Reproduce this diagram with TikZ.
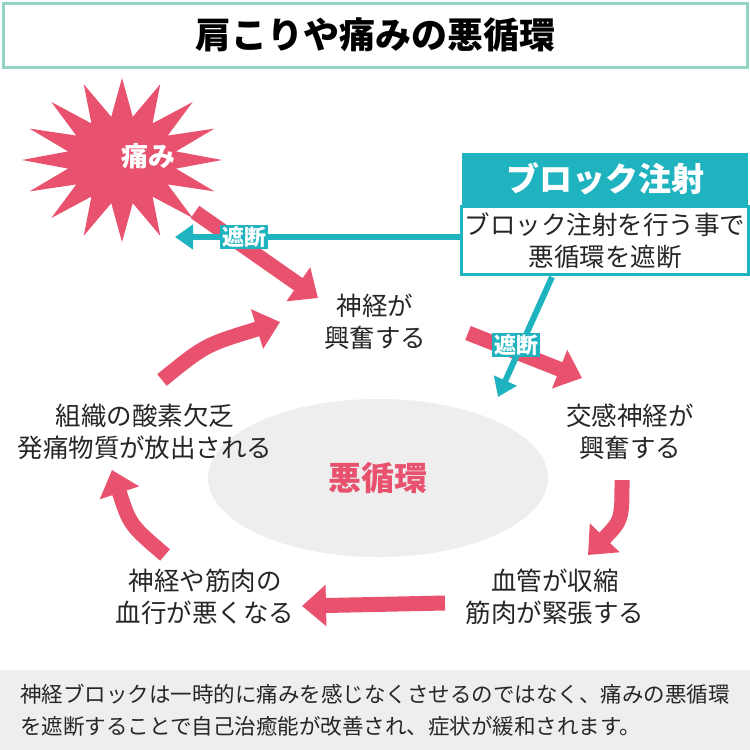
\documentclass[tikz,border=0pt]{standalone}
\usepackage{fontspec}
\setmainfont{Noto Sans CJK JP}
\usetikzlibrary{arrows.meta,shapes.geometric}
\definecolor{pk}{HTML}{E8526E}
\definecolor{tl}{HTML}{1FB3C0}
\definecolor{tb}{HTML}{92D5C5}
\definecolor{gr}{HTML}{EEEEEE}
\begin{document}
\begin{tikzpicture}[x=1pt,y=-1pt,
 txt/.style={align=center,font=\fontsize{25.5}{32}\selectfont,text=black!85},
 parr/.style={pk,line width=15,-{Triangle[length=24,width=40]}},
 tarr/.style={tl,line width=6,-{Triangle[length=18,width=24]}},
 cut/.style={fill=tl,text=white,font=\fontsize{22}{24}\selectfont\bfseries,inner sep=2}]
\useasboundingbox (0,0) rectangle (750,750);
\fill[white] (0,0) rectangle (750,750);
% title
\node[draw=tb,line width=3,minimum width=744,minimum height=64,font=\fontsize{36}{40}\selectfont\bfseries] (title) at (375,35) {肩こりや痛みの悪循環};
% ellipse
\node[ellipse,fill=gr,minimum width=340,minimum height=158,text=pk,font=\fontsize{33}{36}\selectfont\bfseries] (cyc) at (378,478) {悪循環};
% starburst
\fill[pk] plot[samples=33,domain=0:360,variable=\t] ({122+(77.5+22.5*cos(16*\t))*cos(\t)},{160+(63+19*cos(16*\t))*sin(\t)}) -- cycle;
\node[text=white,font=\fontsize{27}{30}\selectfont\bfseries] (pain) at (148,156) {痛み};
% text nodes
\node[txt] (n1) at (375,322) {神経が\\興奮する};
\node[txt] (n2) at (630,432) {交感神経が\\興奮する};
\node[txt] (n3) at (555,597) {血管が収縮\\筋肉が緊張する};
\node[txt] (n4) at (205,597) {神経や筋肉の\\血行が悪くなる};
\node[txt] (n5) at (145,432) {組織の酸素欠乏\\発痛物質が放出される};
% pink arrows
\coordinate (p1s) at (195,212); \coordinate (p1e) at (318,298);
\draw[parr] (p1s) -- (p1e);
\coordinate (p2s) at (468,333); \coordinate (p2e) at (582,378);
\draw[parr] (p2s) -- (p2e);
\coordinate (p3s) at (622,480); \coordinate (p3e) at (588,555);
\draw[parr] (p3s) .. controls (622,520) .. (p3e);
\coordinate (p4s) at (445,603); \coordinate (p4e) at (302,606);
\draw[parr] (p4s) -- (p4e);
\coordinate (p5s) at (165,555); \coordinate (p5e) at (112,470);
\draw[parr] (p5s) .. controls (130,525) .. (p5e);
\coordinate (p6s) at (162,380); \coordinate (p6e) at (280,322);
\draw[parr] (p6s) .. controls (205,345) .. (p6e);
% block box
\node[fill=tl,text=white,minimum width=286,minimum height=52,font=\fontsize{33}{35}\selectfont\bfseries] (bh) at (605,179) {ブロック注射};
\node[draw=tl,line width=3,fill=white,minimum width=283,minimum height=68,txt,anchor=north,inner sep=3] (bb) at (605,205) {ブロック注射を行う事で\\悪循環を遮断};
\coordinate (t1e) at (175,237);
\draw[tarr] (bb.west |- t1e) -- (t1e);
\node[cut] (c1) at (244,237) {遮断};
\coordinate (t2s) at (552,277); \coordinate (t2e) at (498,397);
\draw[tarr] (t2s) -- (t2e);
\node[cut] (c2) at (516,345) {遮断};
% bottom
\fill[gr] (0,670) rectangle (750,750);
\node[align=left,font=\fontsize{21.5}{32}\selectfont,text=black!85] (note) at (375,710) {神経ブロックは一時的に痛みを感じなくさせるのではなく、痛みの悪循環\\を遮断することで自己治癒能が改善され、症状が緩和されます。};
\end{tikzpicture}
\end{document}
